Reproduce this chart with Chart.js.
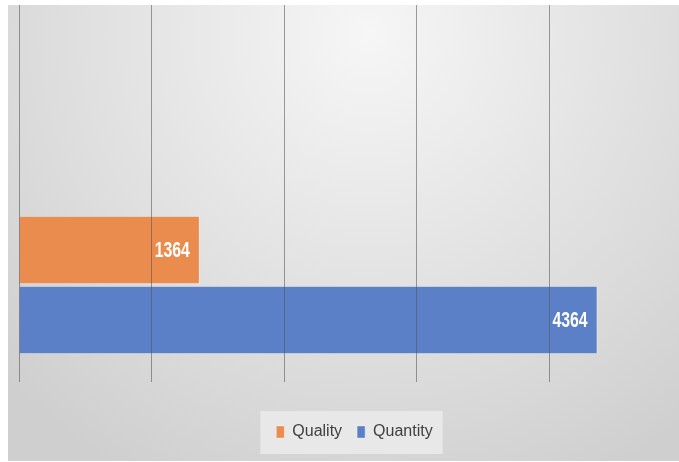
<!DOCTYPE html>
<html>
<head>
<meta charset="utf-8">
<script src="https://cdn.jsdelivr.net/npm/chart.js@4/dist/chart.umd.min.js"></script>
<style>
  html, body { margin: 0; padding: 0; background: #fff; overflow: hidden; }
  #wrap { position: absolute; left: 8px; top: 5px; width: 698px; height: 456px; }
</style>
</head>
<body>
<div id="wrap"><canvas id="chart" width="698" height="456"></canvas></div>
<script>
// rows of the category axis (only the last two carry a bar)
const rows = ['', '', '', 'Quality', 'Quantity'];
const qualityValues = [null, null, null, 1364, null];
const quantityValues = [null, null, null, null, 4364];
const xMin = 0;
const xMax = 5000;
const xStep = 1000;

const background = {
  id: 'background',
  afterLayout(chart) {
    // nudge the legend a little right, as in the original
    chart.legend.left += 4;
    chart.legend.right += 4;
  },
  beforeDraw(chart) {
    const { ctx, width, height } = chart;
    ctx.save();
    const g = ctx.createRadialGradient(360, 30, 0, 360, 30, 500);
    g.addColorStop(0, '#f6f6f6');
    g.addColorStop(1, '#cfcfcf');
    ctx.fillStyle = g;
    ctx.fillRect(0, 0, width, height);

    // light panel behind the legend
    const boxes = chart.legend.legendHitBoxes;
    if (boxes && boxes.length) {
      const first = boxes[0];
      const last = boxes[boxes.length - 1];
      const cy = first.top + first.height / 2;
      const left = first.left - 16;
      const right = last.left + last.width + 10;
      ctx.fillStyle = 'rgba(240,240,240,0.7)';
      ctx.fillRect(left, cy - 21, right - left, 43);
    }
    ctx.restore();
  }
};

// value labels, drawn narrow like the condensed font of the original
const barLabels = {
  id: 'barLabels',
  afterDraw(chart) {
    const { ctx } = chart;
    const squeeze = 0.72;
    ctx.save();
    ctx.fillStyle = '#ffffff';
    ctx.font = "bold 22px 'Liberation Sans', Arial, sans-serif";
    ctx.textAlign = 'right';
    ctx.textBaseline = 'middle';
    chart.data.datasets.forEach((ds, i) => {
      chart.getDatasetMeta(i).data.forEach((bar, j) => {
        if (ds.data[j] == null) return;
        ctx.save();
        ctx.translate(bar.x - 10, bar.y + 1);
        ctx.scale(squeeze, 1);
        ctx.fillText(String(ds.data[j]), 0, 0);
        ctx.restore();
      });
    });
    ctx.restore();
  }
};

new Chart(document.getElementById('chart'), {
  type: 'bar',
  data: {
    labels: rows,
    datasets: [
      {
        label: 'Quality',
        data: qualityValues,
        backgroundColor: '#ea8c4e',
        borderColor: 'rgba(255,255,255,0.35)',
        borderWidth: 1
      },
      {
        label: 'Quantity',
        data: quantityValues,
        backgroundColor: '#5b80c8',
        borderColor: 'rgba(255,255,255,0.35)',
        borderWidth: 1
      }
    ]
  },
  options: {
    indexAxis: 'y',
    responsive: false,
    animation: false,
    devicePixelRatio: 1,
    skipNull: true,
    categoryPercentage: 1,
    barPercentage: 0.98,
    layout: { padding: { left: 11, right: 24, top: 0, bottom: 11 } },
    scales: {
      x: {
        type: 'linear',
        min: xMin,
        max: xMax,
        ticks: { stepSize: xStep, display: false },
        grid: { color: 'rgba(80,80,80,0.55)', lineWidth: 1, tickLength: 27, z: 1 },
        border: { display: false },
        afterFit(scale) { scale.height = 54; }
      },
      y: { display: false }
    },
    plugins: {
      tooltip: { enabled: false },
      legend: {
        position: 'bottom',
        labels: {
          boxWidth: 8,
          boxHeight: 12,
          padding: 15,
          color: '#404040',
          font: { family: "'Liberation Sans', Arial, sans-serif", size: 16 }
        }
      }
    }
  },
  plugins: [background, barLabels]
});
</script>
</body>
</html>
